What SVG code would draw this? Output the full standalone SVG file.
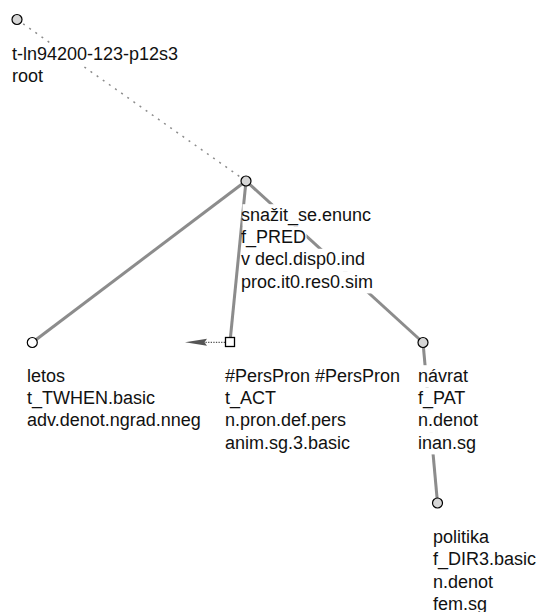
<svg xmlns="http://www.w3.org/2000/svg" width="539" height="612" viewBox="0 0 539 612">
<style>
  .edge { stroke: #8c8c8c; stroke-width: 3; fill: none; stroke-linecap: butt; }
  .dot { stroke: #8c8c8c; stroke-width: 1.5; fill: none; stroke-dasharray: 2 5.5; }
  .nd { stroke: #000; stroke-width: 1.2; fill: #d6d6d6; }
  .nd-w { stroke: #000; stroke-width: 1.2; fill: #fff; }
  .bg { fill: #fff; stroke: none; }
  text { font-family: "Liberation Sans", Arial, Helvetica, sans-serif; font-size: 18px; fill: #111; }
</style>
<rect width="539" height="612" fill="#fff"/>
<g id="connectors">
  <line class="dot" x1="17" y1="19.5" x2="246" y2="181"/>
  <line class="edge" x1="246" y1="181" x2="32.3" y2="342.5"/>
  <line class="edge" x1="246" y1="181" x2="230" y2="342"/>
  <line class="edge" x1="246" y1="181" x2="423" y2="342.5"/>
  <line class="edge" x1="423" y1="342.5" x2="437.5" y2="503"/>
  <line x1="225" y1="342.3" x2="203" y2="342.3" stroke="#555" stroke-width="1.3" stroke-dasharray="1.3 1.3"/>
  <path d="M185,342.3 L207,338.8 L204.5,342.3 L207,345.8 Z" fill="#555"/>
</g>
<g id="n-root">
  <rect class="bg" x="13" y="43" width="165" height="22.3"/>
  <rect class="bg" x="13" y="65.3" width="32" height="22.3"/>
  <circle class="nd" cx="17" cy="19.5" r="5"/>
  <text x="12" y="59.5">t-ln94200-123-p12s3</text>
  <text x="12" y="81.8">root</text>
</g>
<g id="n-snazit">
  <rect class="bg" x="242.5" y="204.2" width="126" height="22.3"/>
  <rect class="bg" x="242.5" y="226.5" width="64" height="22.3"/>
  <rect class="bg" x="242.5" y="248.8" width="124" height="22.3"/>
  <rect class="bg" x="242.5" y="271.1" width="131" height="22.3"/>
  <circle class="nd" cx="246" cy="181" r="5"/>
  <text x="241" y="220.7">snažit_se.enunc</text>
  <text x="241" y="243">f_PRED</text>
  <text x="241" y="265.3">v decl.disp0.ind</text>
  <text x="241" y="287.6">proc.it0.res0.sim</text>
</g>
<g id="n-letos">
  <circle class="nd-w" cx="32.3" cy="342.5" r="5"/>
  <text x="27" y="381.7">letos</text>
  <text x="27" y="404">t_TWHEN.basic</text>
  <text x="27" y="426.3">adv.denot.ngrad.nneg</text>
</g>
<g id="n-perspron">
  <rect x="225.5" y="337.5" width="9" height="9" fill="#fff" stroke="#000" stroke-width="1.3"/>
  <text x="225" y="381.7">#PersPron #PersPron</text>
  <text x="225" y="404">t_ACT</text>
  <text x="225" y="426.3">n.pron.def.pers</text>
  <text x="225" y="448.6">anim.sg.3.basic</text>
</g>
<g id="n-navrat">
  <rect class="bg" x="419.5" y="365.2" width="56" height="22.3"/>
  <rect class="bg" x="419.5" y="387.5" width="48" height="22.3"/>
  <rect class="bg" x="419.5" y="409.8" width="64" height="22.3"/>
  <rect class="bg" x="419.5" y="432.1" width="56" height="22.3"/>
  <circle class="nd" cx="423" cy="342.5" r="5"/>
  <text x="418" y="381.7">návrat</text>
  <text x="418" y="404">f_PAT</text>
  <text x="418" y="426.3">n.denot</text>
  <text x="418" y="448.6">inan.sg</text>
</g>
<g id="n-politika">
  <circle class="nd" cx="437.5" cy="503" r="5"/>
  <text x="433" y="543">politika</text>
  <text x="433" y="565.3">f_DIR3.basic</text>
  <text x="433" y="587.6">n.denot</text>
  <text x="433" y="609.9">fem.sg</text>
</g>
</svg>
